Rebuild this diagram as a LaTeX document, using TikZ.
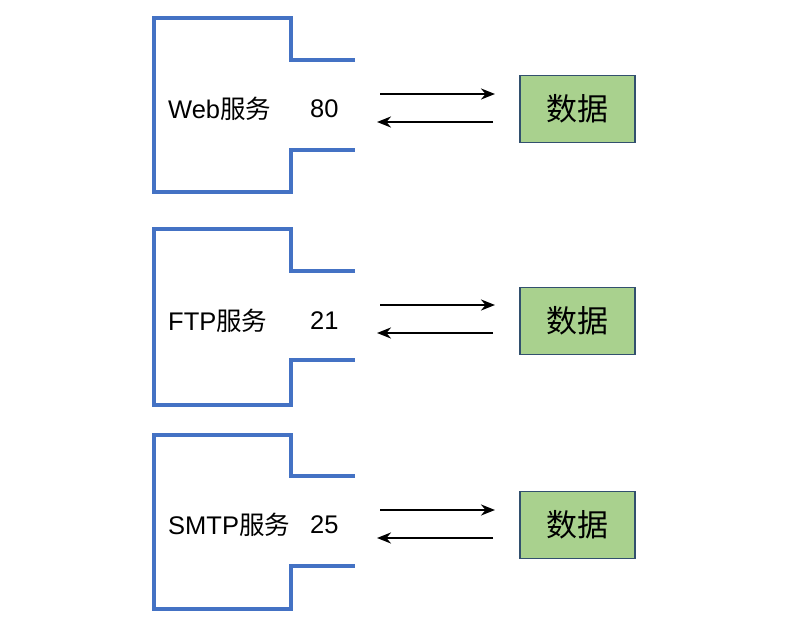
\documentclass[tikz,border=0pt]{standalone}
\usepackage{fontspec}
\usetikzlibrary{arrows.meta}
\setmainfont{Liberation Sans}
\newfontfamily\cjk{Noto Sans CJK SC}
\begin{document}
\begin{tikzpicture}[x=1pt,y=-1pt,
  port/.style={line width=3.2pt, color={rgb,255:red,68;green,114;blue,196}},
  lbl/.style={anchor=west, inner sep=0pt, font=\fontsize{25.5}{30}\selectfont},
  data/.style={draw={rgb,255:red,50;green,80;blue,110}, line width=1.4pt, fill={rgb,255:red,169;green,209;blue,142}, minimum width=115pt, minimum height=67pt, font=\fontsize{31}{35}\selectfont\cjk},
  arr/.style={-{Stealth[length=14pt,width=11pt]}, line width=2.4pt}]
\useasboundingbox (0,0) rectangle (803,622);
\foreach \t/\a/\b/\bb/\n/\p/\ay/\by/\dy/\i in {18/60/150/192/{Web{\cjk 服务}}/80/94/122/109/1, 229/271/360/405/{FTP{\cjk 服务}}/21/305/333/321/2, 435/476/566/609/{SMTP{\cjk 服务}}/25/510/538/525/3}{
  \draw[port, line cap=butt] (355,\a) -- (291,\a) -- (291,\t) -- (154,\t) -- (154,\bb) -- (291,\bb) -- (291,\b) -- (355,\b);
  \node[lbl] (s\i) at (168,\dy) {\n};
  \node[lbl] (p\i) at (310,\dy) {\p};
  \node[data] (d\i) at (577.5,\dy) {数据};
  \coordinate (r\i) at (380,\ay); \coordinate (re\i) at (495,\ay);
  \coordinate (l\i) at (493,\by); \coordinate (le\i) at (377,\by);
  \draw[arr] (r\i) -- (re\i);
  \draw[arr] (l\i) -- (le\i);
}
\end{tikzpicture}
\end{document}
